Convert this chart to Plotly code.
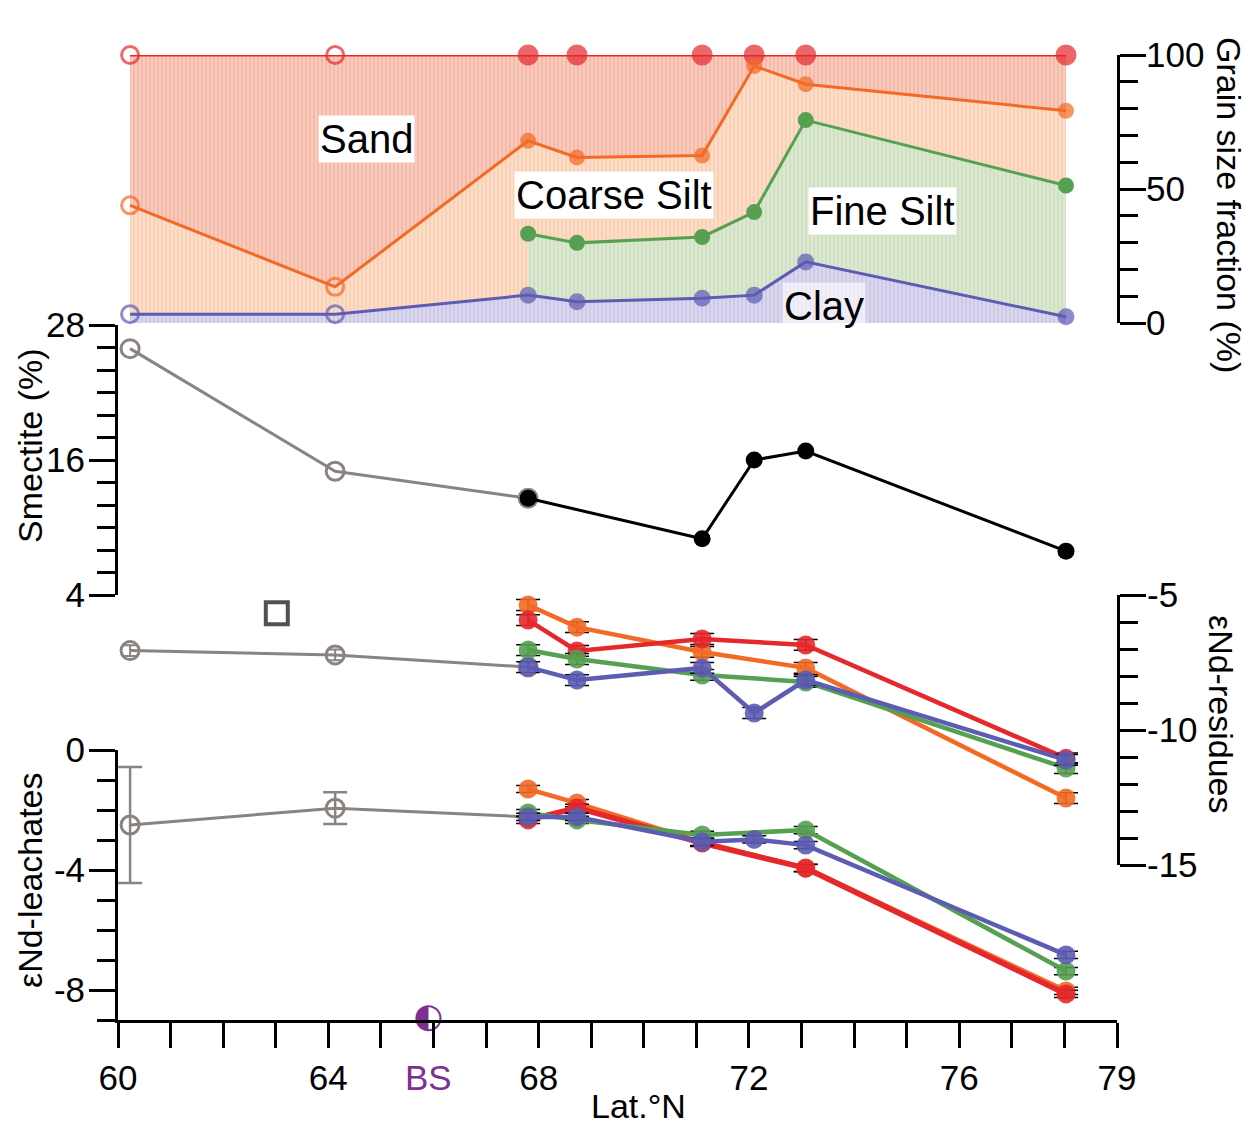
import plotly.graph_objects as go

# ---------------- data ----------------
lat = [60.23, 64.13, 67.8, 68.73, 71.11, 72.1, 73.08, 78.03]
lat_old = [60.23, 64.13, 67.8]
lat_new5 = [67.8, 68.73, 71.11, 73.08, 78.03]
lat_new6 = [67.8, 68.73, 71.11, 72.1, 73.08, 78.03]
lat_smectite = [67.8, 71.11, 72.1, 73.08, 78.03]

# grain size, cumulative upper boundaries (%)
sand_top = [100, 100, 100, 100, 100, 100, 100, 100]
coarse_silt_top = [43.9, 13.5, 68.0, 61.8, 62.5, 95.9, 89.1, 79.2]
fine_silt_top = [33.3, 29.9, 32.1, 41.4, 75.7, 51.3]          # lat_new6
clay_top = [3.3, 3.3, 10.4, 7.9, 9.2, 10.4, 22.8, 2.3]

# smectite (%)
smectite_old = [25.9, 15.0, 12.6]
smectite_new = [12.6, 9.0, 16.0, 16.8, 7.9]                    # lat_smectite

# eNd residues
res_old = [-7.06, -7.22, -7.67]
res_old_err = [0.2, 0.2, 0.0]
res_square_lat = [63.02]
res_square = [-5.68]
res_orange = [-5.37, -6.19, -7.11, -7.70, -12.52]               # lat_new5
res_red = [-5.93, -7.07, -6.63, -6.85, -11.05]                  # lat_new5
res_green = [-7.04, -7.37, -7.96, -8.22, -11.41]                # lat_new5
res_blue = [-7.67, -8.15, -7.70, -9.37, -8.15, -11.11]          # lat_new6

# eNd leachates
lea_old = [-2.5, -1.94, -2.23]
lea_old_err = [1.93, 0.53, 0.0]
lea_orange = [-1.3, -1.77, -3.07, -3.93, -8.03]                 # lat_new5
lea_red = [-2.33, -1.93, -3.1, -3.94, -8.13]                    # lat_new5
lea_green = [-2.1, -2.33, -2.83, -2.67, -7.37]                  # lat_new5
lea_blue = [-2.23, -2.23, -3.06, -2.98, -3.17, -6.83]           # lat_new6

bs_lat = [65.9]
bs_val = [-8.95]

x_ticks = [60, 64, 68, 72, 76, 79]

# ---------------- style ----------------
RED = "#e5282c"
ORANGE = "#f26a25"
GREEN = "#56a052"
BLUE = "#5d5cb3"
GREY = "#8a8380"
PURPLE = "#7d2f92"
FONT = "Liberation Sans, Arial, sans-serif"

W, H = 1255, 1128
L, R, T, B = 118, 1117, 55, 1020


def px_x(px):
    return (px - L) / (R - L)


def px_y(py):
    return (B - py) / (B - T)


fig = go.Figure()

# ---- grain size fills (painted in order, opaque) ----
def fill_trace(xs, ys, color):
    return go.Scatter(
        x=xs, y=ys, yaxis="y4", mode="none", fill="tozeroy",
        fillcolor=color,
        fillpattern=dict(shape="|", size=4, solidity=0.3, fgcolor="white",
                         fgopacity=0.45, bgcolor=color),
        hoverinfo="skip", showlegend=False)


fig.add_trace(fill_trace(lat, sand_top, "#f5b9a7"))
fig.add_trace(fill_trace(lat, coarse_silt_top, "#fbd1b6"))
fig.add_trace(fill_trace(lat_new6, fine_silt_top, "#d0e0c2"))
fig.add_trace(fill_trace(lat, clay_top, "#cec9e8"))

open_sym = ["circle-open", "circle-open"] + ["circle"] * 6


def grain_line(xs, ys, color, size, symbols):
    return go.Scatter(
        x=xs, y=ys, yaxis="y4", mode="lines+markers",
        line=dict(color=color, width=3),
        marker=dict(color=color, size=size, symbol=symbols,
                    line=dict(color=color, width=3)),
        cliponaxis=False, showlegend=False)


fig.add_trace(grain_line(lat, sand_top, RED, [17, 17] + [18] * 6, open_sym))
fig.add_trace(grain_line(lat, coarse_silt_top, ORANGE, [17, 17] + [13] * 6, open_sym))
fig.add_trace(grain_line(lat_new6, fine_silt_top, GREEN, 13, "circle"))
fig.add_trace(grain_line(lat, clay_top, BLUE, [17, 17] + [14] * 6, open_sym))

# ---- smectite ----
fig.add_trace(go.Scatter(
    x=lat_old, y=smectite_old, yaxis="y3", mode="lines+markers",
    line=dict(color=GREY, width=3),
    marker=dict(symbol="circle-open", size=18, color=GREY, line=dict(width=3)),
    cliponaxis=False, showlegend=False))
fig.add_trace(go.Scatter(
    x=lat_smectite, y=smectite_new, yaxis="y3", mode="lines+markers",
    line=dict(color="black", width=3),
    marker=dict(symbol="circle", size=17, color="black"),
    cliponaxis=False, showlegend=False))

# ---- residues ----
fig.add_trace(go.Scatter(
    x=lat_old, y=res_old, yaxis="y2", mode="lines+markers",
    line=dict(color=GREY, width=3),
    marker=dict(symbol="circle-open", size=18, color=GREY, line=dict(width=3)),
    error_y=dict(type="data", array=res_old_err, color=GREY, thickness=2, width=8),
    cliponaxis=False, showlegend=False))
fig.add_trace(go.Scatter(
    x=res_square_lat, y=res_square, yaxis="y2", mode="markers",
    marker=dict(symbol="square-open", size=22, color="#555050", line=dict(width=4)),
    showlegend=False))


def nd_trace(xs, ys, color, axis, err, lw=4.5):
    return go.Scatter(
        x=xs, y=ys, yaxis=axis, mode="lines+markers",
        line=dict(color=color, width=lw),
        marker=dict(symbol="circle", size=19, color=color, opacity=0.9),
        error_y=dict(type="constant", value=err, color="black", thickness=1.5, width=12),
        cliponaxis=False, showlegend=False)


fig.add_trace(nd_trace(lat_new5, res_orange, ORANGE, "y2", 0.2))
fig.add_trace(nd_trace(lat_new5, res_red, RED, "y2", 0.2))
fig.add_trace(nd_trace(lat_new5, res_green, GREEN, "y2", 0.2))
fig.add_trace(nd_trace(lat_new6, res_blue, BLUE, "y2", 0.2))

# ---- leachates ----
fig.add_trace(go.Scatter(
    x=lat_old, y=lea_old, yaxis="y", mode="lines+markers",
    line=dict(color=GREY, width=3),
    marker=dict(symbol="circle-open", size=18, color=GREY, line=dict(width=3)),
    error_y=dict(type="data", array=lea_old_err, color=GREY, thickness=2.5, width=12),
    cliponaxis=False, showlegend=False))
fig.add_trace(nd_trace(lat_new5, lea_orange, ORANGE, "y", 0.12))
fig.add_trace(nd_trace(lat_new5, lea_red, RED, "y", 0.12, 5.5))
fig.add_trace(nd_trace(lat_new5, lea_green, GREEN, "y", 0.12))
fig.add_trace(nd_trace(lat_new6, lea_blue, BLUE, "y", 0.12))

# BS marker (half-filled circle)
fig.add_trace(go.Scatter(
    x=bs_lat, y=bs_val, yaxis="y", mode="text", text=["◐"],
    textfont=dict(size=34, color=PURPLE, family="DejaVu Sans"),
    textposition="middle center", cliponaxis=False, showlegend=False))

# ---------------- axes ----------------
TICKFONT = dict(size=35, color="black", family=FONT)


def yax(domain, rng, side, tickvals, mdt, standoff):
    return dict(
        domain=domain, range=rng, side=side, anchor="x",
        showline=True, linecolor="black", linewidth=3,
        ticks="outside", ticklen=26, tickwidth=3, tickcolor="black",
        tickvals=tickvals, ticktext=[str(v) for v in tickvals],
        tickfont=TICKFONT, ticklabelstandoff=standoff,
        minor=dict(ticks="outside", dtick=mdt, tick0=0, ticklen=18,
                   tickwidth=3, tickcolor="black", showgrid=False),
        showgrid=False, zeroline=False, fixedrange=True)


fig.update_layout(
    width=W, height=H,
    margin=dict(l=L, r=W - R, t=T, b=H - B, pad=0),
    paper_bgcolor="white", plot_bgcolor="rgba(0,0,0,0)",
    font=dict(family=FONT, color="black"),
    showlegend=False,
    xaxis=dict(
        range=[60, 79], anchor="y", showline=True, linecolor="black", linewidth=3,
        ticks="outside", ticklen=25, tickwidth=3, tickcolor="black",
        tickvals=x_ticks, ticktext=[str(v) for v in x_ticks], tickfont=TICKFONT,
        minor=dict(ticks="outside", dtick=1, tick0=0, ticklen=25, tickwidth=3,
                   tickcolor="black", showgrid=False),
        showgrid=False, zeroline=False),
    yaxis=yax([0, px_y(750)], [-9, 0], "left", [-8, -4, 0], 1, -3),
    yaxis2=yax([px_y(865), px_y(595)], [-15, -5], "right", [-15, -10, -5], 1, -6),
    yaxis3=yax([px_y(595), px_y(325)], [4, 28], "left", [4, 16, 28], 2, -3),
    yaxis4=yax([px_y(323), 1], [0, 100], "right", [0, 50, 100], 10, -7),
)


def ann(text, px, py, size=36, angle=0, color="black", bg=None):
    d = dict(text=text, x=px_x(px), y=px_y(py), xref="paper", yref="paper",
             showarrow=False, textangle=angle, xanchor="center", yanchor="middle",
             font=dict(size=size, color=color, family=FONT))
    if bg:
        d.update(bgcolor=bg, borderpad=1)
    fig.add_annotation(**d)


ann("Grain size fraction (%)", 1229, 205, 34, 90)
ann("Smectite (%)", 30, 446, 34, -90)
ann("εNd-residues", 1221, 714, 34, 90)
ann("εNd-leachates", 30, 880, 34, -90)
ann("Lat.°N", 638, 1106, 34)
ann("BS", 428, 1077, 35, color=PURPLE)

ann("Sand", 366, 139, 40, bg="white")
ann("Coarse Silt", 614, 195, 40, bg="white")
ann("Fine Silt", 882, 211, 40, bg="white")
ann("Clay", 824, 306, 40, bg="rgba(255,255,255,0.6)")

fig.write_html("out.html")
